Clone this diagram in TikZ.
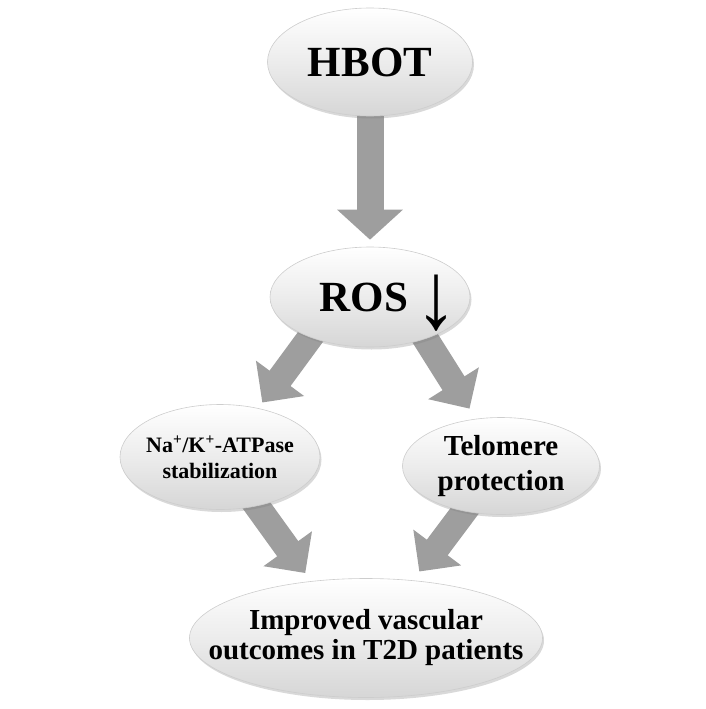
\documentclass[tikz,border=0pt]{standalone}
\usepackage{fontspec}
\usepackage{graphicx}
\setmainfont{Liberation Serif}
\usetikzlibrary{shapes,backgrounds,shadows,arrows.meta}
\definecolor{arrowgray}{RGB}{158,158,158}
\definecolor{bubbleedge}{RGB}{205,205,205}
\definecolor{bubblelow}{RGB}{214,214,214}
\definecolor{bubblemid}{RGB}{236,236,236}

\tikzset{
    bubble/.style={ellipse, draw=bubbleedge, line width=0.6pt,
        top color=white, bottom color=bubblelow, middle color=bubblemid,
        drop shadow={opacity=0.3, shadow xshift=1.5pt, shadow yshift=-2.5pt},
        align=center, inner sep=0pt},
    fatarrow/.style={draw=arrowgray, line width=26pt,
        -{Triangle[width=58pt,length=30pt]}}
}

\begin{document}
\begin{tikzpicture}[x=1pt, y=-1pt]
    \useasboundingbox (0,0) rectangle (706,709);

    \node[bubble, minimum width=205pt, minimum height=108pt,
        font=\bfseries\fontsize{43}{48}\selectfont] (hbot) at (370,62) {HBOT};
    \node[bubble, minimum width=200pt, minimum height=100pt, inner xsep=-18pt,
        font=\bfseries\fontsize{43}{48}\selectfont] (ros) at (370,297)
        {\hspace*{37pt}ROS\hspace{7pt}\raisebox{-17pt}[0pt][0pt]{\scalebox{1.5}[1.7]{\fontsize{56}{56}\selectfont ↓}}};
    \node[bubble, minimum width=200pt, minimum height=105pt, inner xsep=-12pt,
        font=\bfseries\fontsize{22}{26}\selectfont] (na) at (220,457)
        {Na\textsuperscript{+}/K\textsuperscript{+}-ATPase\\stabilization};
    \node[bubble, minimum width=197pt, minimum height=97pt,
        font=\bfseries\fontsize{29}{35}\selectfont] (telo) at (501,466)
        {Telomere\\protection};
    \node[bubble, minimum width=353pt, minimum height=119pt, inner xsep=-45pt,
        font=\bfseries\fontsize{29}{30}\selectfont] (outcome) at (366,638)
        {Improved vascular\\outcomes in T2D patients};

    % block arrows behind the ellipses
    \begin{scope}[on background layer]
        \draw[fatarrow, line width=27pt, -{Triangle[width=64pt,length=30pt]},
            shorten <=-15pt, shorten >=7pt] (hbot.south) -- (ros.north);
        \draw[fatarrow, shorten <=-15pt, shorten >=7pt] (ros.214) -- (na.52);
        \draw[fatarrow, shorten <=-15pt, shorten >=12pt] (ros.-37) -- (telo.118);
        \draw[fatarrow, shorten <=-15pt, shorten >=10pt] (na.-53) -- (outcome.134);
        \draw[fatarrow, shorten <=-15pt, shorten >=11pt] (telo.231) -- (outcome.51);
    \end{scope}
\end{tikzpicture}
\end{document}
